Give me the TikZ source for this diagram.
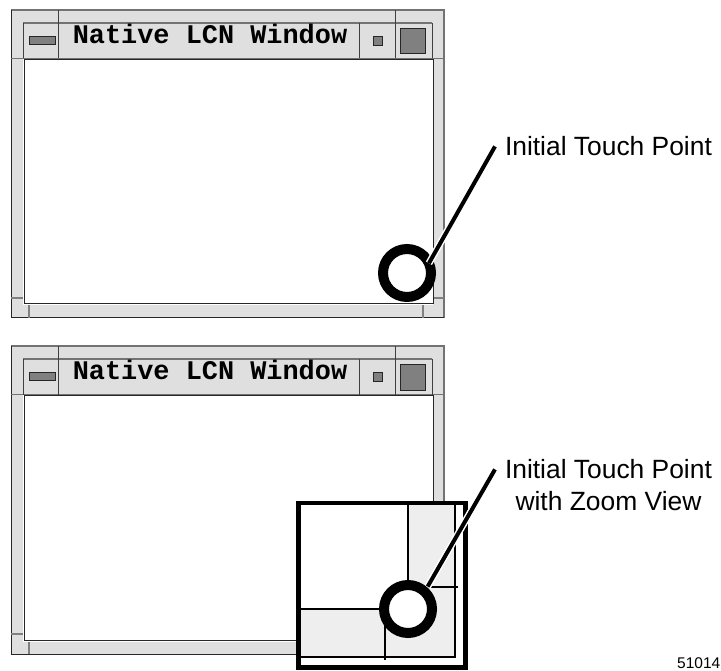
\documentclass[tikz,border=0pt]{standalone}
\usepackage{fontspec}
\setmainfont{Liberation Sans}
\newfontfamily\winfont{Liberation Mono}
\usetikzlibrary{positioning}

\begin{document}
\begin{tikzpicture}[x=1pt,y=-1pt,
  edge/.style={black!55,line width=1.5pt},
  divider/.style={black!75,line width=0.8pt},
  tick/.style={black!50,line width=1.5pt},
  button/.style={fill=gray,draw=black!85,line width=1pt},
  zoomline/.style={black,line width=2pt},
  ring/.style={circle,draw=black,fill=white,line width=10pt,minimum size=48pt,inner sep=0pt,outer sep=0pt},
  leader/.style={line width=4pt,preaction={draw=white,line width=7pt}},
  callout/.style={inner sep=0pt,outer xsep=10pt,outer ysep=0pt,font=\fontsize{26.4}{30}\selectfont},
  wintitle/.style={inner sep=0pt,anchor=base,font=\winfont\bfseries\fontsize{26.9}{30}\selectfont}]
\useasboundingbox (0,0) rectangle (721,671);

% the two windows
\foreach \dy/\n in {0/1,336/2}{
\begin{scope}[shift={(0,\dy)}]
  \fill[gray!25] (11,10) rectangle (444,318);
  \draw[edge] (11,10) -- (444,10) -- (444,318);
  \draw[black!85,line width=1pt] (11,10) -- (11,318) -- (444,318);
  % title bar
  \draw[edge] (23,23) -- (432,23);
  \draw[edge] (11,58.5) -- (444,58.5);
  \draw[divider] (23,23) -- (23,58.5) (432,23) -- (432,58.5);
  \draw[divider] (58,10) -- (58,58.5) (395,10) -- (395,58.5) (359,23) -- (359,58.5);
  % corner ticks
  \draw[tick] (11,298) -- (23,298) (433,298) -- (444,298) (29,305) -- (29,318) (423,305) -- (423,318);
  % client area
  \draw[white,line width=1pt] (23,59) -- (23,305) -- (433,305);
  \filldraw[fill=white,draw=black!85,line width=1pt] (24,59.5) rectangle (433,304);
  \draw[button] (29,37) rectangle (55,45);
  \draw[button] (373,37) rectangle (382,46);
  \draw[button] (400,29) rectangle (425,54);
  \node[wintitle] (title\n) at (210,44) {Native LCN Window};
\end{scope}}

% zoom view
\fill[white] (298,503) rectangle (465,667);
\fill[gray!13] (408,505) rectangle (455,657);
\fill[gray!13] (300,609) rectangle (455,657);
\draw[zoomline] (408,505) -- (408,609) -- (300,609);
\draw[zoomline] (455,505) -- (455,657) -- (300,657);
\draw[zoomline] (430,587) -- (458,587) (385,609) -- (385,660);
\draw[line width=4.5pt] (298.3,503) rectangle (465.3,667.5);

\node[ring] (tp1) at (407,273) {};
\node[ring] (tp2) at (408,609) {};

\node[callout,anchor=west] (tl1) at (495,146.4) {Initial Touch Point};
\node[callout,anchor=west] (zl1) at (495,469.4) {Initial Touch Point};
\node[callout,below=12.7pt of zl1] (zl2) {with Zoom View};

\draw[leader] (tp1.24) -- (tl1.west);
\draw[leader,shorten <=6pt] (tp2.46) -- (zl1.west);

\node[inner sep=0pt,anchor=base east,font=\fontsize{15.5}{18}\selectfont] (fignum) at (720.5,668) {51014};
\end{tikzpicture}
\end{document}
